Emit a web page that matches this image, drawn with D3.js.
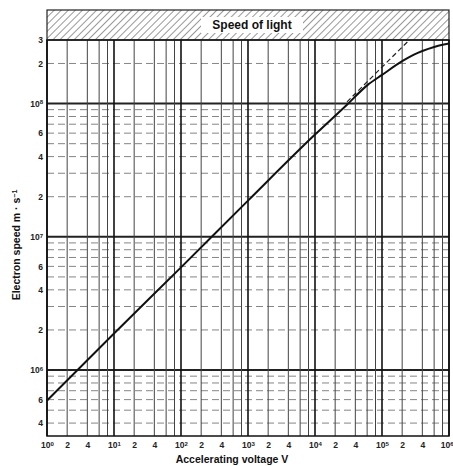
<!DOCTYPE html>
<html>
<head>
<meta charset="utf-8">
<script src="https://cdn.jsdelivr.net/npm/d3@7"></script>
<style>
    body { margin: 0; background: #fff; }
    svg { font-family: "Liberation Sans", Arial, sans-serif; }
    .tick text { font-size: 8.5px; font-weight: bold; fill: #222; }
    .title { font-size: 10.5px; font-weight: bold; fill: #111; }
</style>
</head>
<body>
<svg id="chart" width="453" height="466"></svg>
<script>
// accelerating voltage (V) and electron speed (m/s)
const voltage = [1, 10, 100, 1e3, 1e4, 3e4, 6e4, 1e5, 2e5, 3e5, 4e5, 6e5, 8e5, 1e6];
const speed = [5.9e5, 1.88e6, 5.9e6, 1.87e7, 5.85e7, 9.8e7, 1.37e8, 1.64e8, 2.08e8, 2.33e8, 2.48e8, 2.66e8, 2.76e8, 2.82e8];

// non-relativistic line (dashed), leaves the curve and hits c
const classicVoltage = [3e4, 2.56e5];
const classicSpeed = [1.03e8, 3e8];

// tick labels
const xTickValues = [1, 2, 4, 10, 20, 40, 100, 200, 400, 1e3, 2e3, 4e3, 1e4, 2e4, 4e4, 1e5, 2e5, 4e5, 1e6];
const xTickLabels = ["10^0", "2", "4", "10^1", "2", "4", "10^2", "2", "4", "10^3", "2", "4", "10^4", "2", "4", "10^5", "2", "4", "10^6"];
const yTickValues = [4e5, 6e5, 1e6, 2e6, 4e6, 6e6, 1e7, 2e7, 4e7, 6e7, 1e8, 2e8, 3e8];
const yTickLabels = ["4", "6", "10^6", "2", "4", "6", "10^7", "2", "4", "6", "10^8", "2", "3"];

const mLeft = 47, mRight = 449, mTop = 40, mBottom = 436;

let svg = d3.select("#chart");

let xScale = d3.scaleLog().domain([1, 1e6]).range([mLeft, mRight]);
let yScale = d3.scaleLog().domain([3.2e5, 3e8]).range([mBottom, mTop]);

// hatch pattern for the speed of light band
let defs = svg.append("defs");
let pat = defs.append("pattern")
    .attr("id", "hatch")
    .attr("patternUnits", "userSpaceOnUse")
    .attr("width", 5).attr("height", 5)
    .attr("patternTransform", "rotate(45)");
pat.append("line")
    .attr("x1", 0).attr("y1", 0).attr("x2", 0).attr("y2", 5)
    .attr("stroke", "#333").attr("stroke-width", 1);

svg.append("rect")
    .attr("x", mLeft).attr("y", 10)
    .attr("width", mRight - mLeft).attr("height", mTop - 10)
    .attr("fill", "url(#hatch)")
    .attr("stroke", "#222").attr("stroke-width", 1.2);

svg.append("rect")
    .attr("x", 201).attr("y", 17)
    .attr("width", 102).attr("height", 16)
    .attr("fill", "#fff");
svg.append("text")
    .attr("x", 252).attr("y", 29)
    .attr("text-anchor", "middle")
    .attr("font-size", "12px").attr("font-weight", "bold").attr("fill", "#111")
    .text("Speed of light");

// horizontal grid: dashed for 2..9, solid at decades
let hGrid = yScale.ticks().filter(d => d >= 3.2e5 && d <= 3e8);
svg.append("g").selectAll("line")
    .data(hGrid)
    .enter().append("line")
    .attr("x1", mLeft).attr("x2", mRight)
    .attr("y1", d => yScale(d)).attr("y2", d => yScale(d))
    .attr("stroke", d => Number.isInteger(Math.log10(d)) ? "#222" : "#777")
    .attr("stroke-width", d => Number.isInteger(Math.log10(d)) ? 2 : 0.9)
    .attr("stroke-dasharray", d => Number.isInteger(Math.log10(d)) ? null : "7,4");

// vertical grid at 1, 2, 4, 6, 8 of each decade
let vGrid = xScale.ticks().filter(d => {
    let m = Math.round(d / Math.pow(10, Math.floor(Math.log10(d) + 1e-9)));
    return [1, 2, 4, 6, 8].includes(m);
});
svg.append("g").selectAll("line")
    .data(vGrid)
    .enter().append("line")
    .attr("x1", d => xScale(d)).attr("x2", d => xScale(d))
    .attr("y1", mTop).attr("y2", mBottom)
    .attr("stroke", d => Number.isInteger(Math.log10(d)) ? "#111" : "#444")
    .attr("stroke-width", d => Number.isInteger(Math.log10(d)) ? 1.6 : 1);

// frame, top edge is the speed of light
svg.append("rect")
    .attr("x", mLeft).attr("y", mTop)
    .attr("width", mRight - mLeft).attr("height", mBottom - mTop)
    .attr("fill", "none").attr("stroke", "#111").attr("stroke-width", 1.5);

// axes
function supLabel(sel, labels) {
    sel.selectAll(".tick text").each(function (d, i) {
        let t = d3.select(this);
        let lab = labels[i];
        t.text(null);
        if (lab.startsWith("10^")) {
            t.append("tspan").text("10");
            t.append("tspan").attr("dy", "-0.4em").attr("font-size", "6px").text(lab.slice(3));
        } else {
            t.text(lab);
        }
    });
}

let xAxis = svg.append("g")
    .attr("transform", `translate(0,${mBottom})`)
    .call(d3.axisBottom(xScale).tickValues(xTickValues).tickSize(0).tickPadding(6));
xAxis.select(".domain").remove();
supLabel(xAxis, xTickLabels);
// keep the last label inside the page
xAxis.selectAll(".tick text").filter(d => d === 1e6)
    .attr("text-anchor", "end").attr("x", 4);

let yAxis = svg.append("g")
    .attr("transform", `translate(${mLeft},0)`)
    .call(d3.axisLeft(yScale).tickValues(yTickValues).tickSize(0).tickPadding(4));
yAxis.select(".domain").remove();
supLabel(yAxis, yTickLabels);

// axis titles
svg.append("text")
    .attr("class", "title")
    .attr("x", 232).attr("y", 463)
    .attr("text-anchor", "middle")
    .text("Accelerating voltage V");

let yt = svg.append("text")
    .attr("class", "title")
    .attr("transform", `translate(${20},${245}) rotate(270)`)
    .attr("text-anchor", "middle");
yt.append("tspan").text("Electron speed m · s");
yt.append("tspan").attr("dy", "-0.45em").attr("font-size", "7px").text("−1");

// curves
let line = d3.line()
    .x(d => xScale(d[0]))
    .y(d => yScale(d[1]))
    .curve(d3.curveMonotoneX);

svg.append("path")
    .datum(classicVoltage.map((v, i) => [v, classicSpeed[i]]))
    .attr("d", line)
    .attr("fill", "none")
    .attr("stroke", "#222").attr("stroke-width", 1.2)
    .attr("stroke-dasharray", "5,3");

svg.append("path")
    .datum(voltage.map((v, i) => [v, speed[i]]))
    .attr("d", line)
    .attr("fill", "none")
    .attr("stroke", "#111").attr("stroke-width", 2);
</script>
</body>
</html>
